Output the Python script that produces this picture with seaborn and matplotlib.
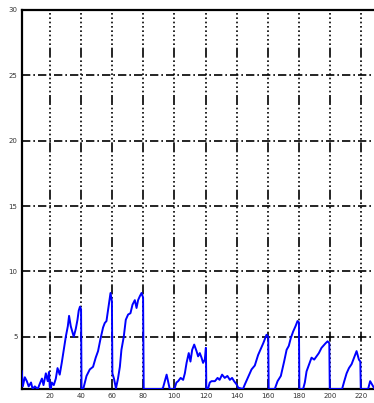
import matplotlib
matplotlib.use("Agg")
import matplotlib.pyplot as plt
import seaborn as sns
import pandas as pd

# Daily series (day index, level)
day = [2, 2.7, 4, 5.3, 6.5, 8, 9, 10.4, 12.3, 13.6, 15, 16, 17.5, 18.7, 19.5, 20, 20.7,
       21.3, 22.6, 23.9, 25, 26.4, 27.7, 29, 30.3, 31.6, 32.4, 33.5, 34.2, 35.4, 36.7,
       37.8, 38.6, 39.4, 40.1, 40.4,
       41.5, 43.6, 45.7, 47.8, 49.5, 51, 52.5, 54.2, 55.3, 56.4, 57.5, 59, 59.9, 60.2,
       61.2, 62.5, 63.8, 65, 66, 67.5, 68.8, 70.3, 71.8, 73.1, 74.6, 75.7, 76.7, 77.8,
       78.9, 79.9, 80.3,
       92, 92.7, 95, 96.4, 97, 100, 101.3, 102.4, 104, 105.6, 106.7, 107.8, 109.2,
       110.3, 111.4, 112.7, 114.2, 115.2, 116.3, 117.4, 118.4, 119.5, 120.2, 120.5,
       121.5, 122.7, 123.8, 126, 127.7, 129, 130.6, 132.3, 134, 135.6, 137, 138.3,
       139.9, 141, 144, 145.2, 149.5, 151.6, 153.7, 157, 159.1, 160.2, 160.5,
       164.4, 166.2, 168.3, 170.4, 172, 173.4, 174.7, 176.2, 177.7, 179, 179.9, 180.2,
       182.6, 183.7, 184.8, 186.5, 188, 189.7, 191.2, 192.7, 194.4, 195.5, 197, 198.3,
       199.4, 199.7,
       207.6, 209, 210.5, 212, 213.7, 215.3, 216.9, 218.4, 219.3, 219.6,
       224.3, 225.6, 227.5, 228.5]
level = [2.4, 1.2, 1.9, 1.6, 1.2, 1.5, 1.0, 1.2, 1.0, 1.4, 1.8, 1.3, 2.2, 1.6, 2.3, 1.2, 1.0,
         1.5, 1.3, 1.8, 2.6, 2.1, 3.0, 4.0, 5.0, 5.8, 6.6, 5.8, 5.5, 5.0, 5.6,
         6.3, 7.0, 7.3, 7.1, 1.0,
         1.0, 2.0, 2.5, 2.7, 3.4, 3.9, 4.8, 5.7, 6.05, 6.2, 7.1, 8.35, 7.7, 2.2,
         1.8, 1.05, 1.8, 2.7, 4.0, 5.0, 6.3, 6.7, 6.8, 7.45, 7.8, 7.2, 7.8, 8.1,
         8.35, 8.0, 1.0,
         1.0, 1.1, 2.1, 1.35, 1.0, 1.0, 1.5, 1.6, 1.85, 1.7, 2.2, 3.0, 3.75,
         3.1, 4.0, 4.4, 3.9, 3.5, 3.75, 3.4, 3.0, 3.25, 4.15, 1.0,
         1.0, 1.5, 1.6, 1.6, 1.85, 1.7, 2.1, 1.85, 2.0, 1.7, 1.85, 1.6,
         1.35, 1.1, 1.0, 1.35, 2.5, 2.8, 3.6, 4.5, 5.15, 5.0, 1.0,
         1.0, 1.6, 2.0, 3.1, 4.0, 4.3, 4.9, 5.4, 5.8, 6.2, 6.1, 1.0,
         1.0, 1.5, 2.35, 2.9, 3.4, 3.25, 3.5, 3.75, 4.15, 4.3, 4.5, 4.65,
         4.5, 1.0,
         1.0, 1.6, 2.2, 2.6, 2.9, 3.4, 3.9, 3.25, 3.1, 1.0,
         1.0, 1.6, 1.2, 1.0]

x_ticks = [20, 40, 60, 80, 100, 120, 140, 160, 180, 200, 220]
y_ticks = [5, 10, 15, 20, 25, 30]

df = pd.DataFrame({"day": day, "level": level})

sns.set_style("white")
plt.rcParams["font.family"] = ["DejaVu Sans"]

fig = plt.figure(figsize=(3.74, 4.03), dpi=100)
ax = fig.add_axes([0.058, 0.0347, 0.975, 0.9405])

sns.lineplot(data=df, x="day", y="level", ax=ax, estimator=None, sort=False,
             color="#0000ff", linewidth=1.4, zorder=3)

ax.set_xlim(2, 236)
ax.set_ylim(1, 30)
ax.set_xticks(x_ticks)
ax.set_yticks(y_ticks)
ax.set_xlabel("")
ax.set_ylabel("")

# dash-dot grid: horizontal lines and dotted verticals with periodic dashes
for yv in y_ticks[:-1]:
    ax.axhline(yv, color="black", linewidth=1.2,
               linestyle=(0, (5.0, 1.8, 1.0, 1.8)), zorder=1)
for xv in x_ticks:
    ax.axvline(xv, color="black", linewidth=1.2,
               linestyle=(0, (6.0, 1.6, 1.0, 1.6, 1.0, 1.6, 1.0, 1.6, 1.0, 1.6,
                              1.0, 1.6, 1.0, 1.6, 1.0, 1.6, 1.0, 1.6)), zorder=1)

for side in ["left", "bottom", "top"]:
    ax.spines[side].set_color("black")
    ax.spines[side].set_linewidth(1.6)
ax.spines["right"].set_visible(False)

ax.tick_params(axis="both", length=0, labelsize=5, colors="#333333", pad=3)

fig.savefig("out.png", dpi=100)
